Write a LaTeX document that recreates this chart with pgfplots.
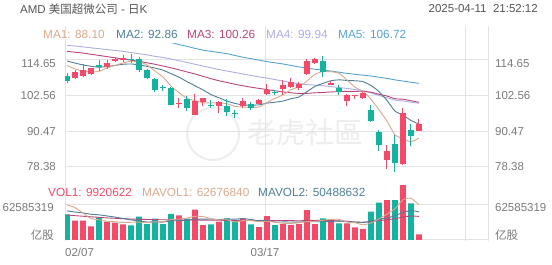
\documentclass[border=0pt]{standalone}
\usepackage{fontspec}
\setmainfont{Liberation Sans}
\newfontfamily\cjk{Noto Sans CJK SC}
\usepackage{pgfplots}
\usepackage{pgfplotstable}
\pgfplotsset{compat=1.18}

\definecolor{upred}{HTML}{F24A68}
\definecolor{dnteal}{HTML}{14B39F}
\definecolor{ma1c}{HTML}{D9A98C}
\definecolor{ma2c}{HTML}{4E7E98}
\definecolor{ma3c}{HTML}{B9457A}
\definecolor{ma4c}{HTML}{ADADE6}
\definecolor{ma5c}{HTML}{56A3D2}
\definecolor{gridc}{HTML}{E3E3E3}
\definecolor{labc}{HTML}{7A7A7A}
\definecolor{titc}{HTML}{555555}
\definecolor{wmc}{HTML}{EDEDED}

\newcommand\lab{\fontsize{11.5}{13}\selectfont}

% candles: i open high low close
\pgfplotstableread{
i o h l c
1 108.68 111.27 108.2 110.70
2 109.35 113.18 109.0 111.27
3 109.8 112.1 109.6 111.83
5 112.4 114.65 111.6 113.5
6 114.4 115.8 113.9 115.0
7 114.5 116.3 114.1 115.4
14 99.9 101.9 98.5 100.2
16 96.1 103.0 95.8 100.8
17 100.3 101.9 98.9 101.7
19 98.9 100.8 96.6 100.3
22 98.9 101.7 98.3 100.6
24 99.7 101.5 99.6 101.1
25 103.0 106.4 102.8 104.5
27 104.7 107.9 102.8 106.2
28 105.6 108.4 105.3 107.1
29 105.3 107.1 104.5 106.4
30 109.8 115.0 109.6 114.3
31 113.5 115.2 113.2 115.0
33 106.4 107.4 106.0 106.8
35 100.6 103.0 98.9 102.8
36 102.5 102.8 101.5 102.8
37 101.7 103.9 101.4 103.4
40 80.5 85.9 77.5 83.7
42 79.4 98.3 79.1 96.6
44 90.6 94.7 90.4 93.0
}\upc
\pgfplotstableread{
i o h l c
0 109.35 110.14 106.99 107.66
4 112.8 114.65 110.9 112.5
8 115.0 116.6 113.5 114.8
9 115.0 115.8 110.7 111.3
10 111.3 111.6 108.1 108.4
11 108.2 108.7 103.9 104.5
12 105.5 106.0 104.2 105.3
13 105.3 105.6 99.2 99.4
15 101.4 102.3 97.2 98.5
18 99.4 101.1 98.3 99.1
20 98.9 101.5 95.5 97.0
21 96.6 97.7 94.9 96.4
23 99.7 100.3 97.7 98.3
26 103.9 104.5 102.8 103.7
32 114.3 116.1 109.0 110.7
34 105.3 106.2 102.8 103.9
38 97.7 99.4 93.6 93.8
39 90.2 91.0 83.7 85.7
41 86.2 89.3 76.6 79.7
43 91.0 92.9 85.3 88.7
}\dnc

\pgfplotstableread{
i ma1 ma2 ma3 ma4 ma5
0 112.8 114.3 117.6 119.6 nan
1 111.6 113.6 117.3 119.4 nan
2 110.9 113.0 117.0 119.1 nan
3 110.6 112.5 116.6 118.8 nan
4 110.79 112.2 116.2 118.5 nan
5 111.96 112.4 115.8 118.2 nan
6 112.82 112.8 115.4 117.9 nan
7 113.65 113.2 115.0 117.6 nan
8 114.24 113.3 114.6 117.2 nan
9 114.0 113.0 114.2 116.8 nan
10 112.98 112.5 113.7 116.4 nan
11 110.88 111.9 113.2 115.9 nan
12 108.86 111.2 112.6 115.5 nan
13 105.78 110.0 112.0 115.0 120.6
14 103.56 108.8 111.3 114.4 119.9
15 101.58 107.3 110.6 113.8 119.3
16 100.84 105.9 109.9 113.2 118.6
17 100.12 104.5 109.1 112.6 118.0
18 100.06 102.9 108.3 112.0 117.6
19 100.08 101.8 107.6 111.4 117.2
20 99.78 100.7 107.0 110.9 116.8
21 98.9 99.9 106.4 110.4 116.2
22 98.68 99.4 105.9 109.9 115.6
23 98.52 99.3 105.4 109.4 115.1
24 98.68 99.4 105.0 108.9 114.6
25 100.18 100.0 104.6 108.5 114.1
26 101.64 100.3 104.2 108.0 113.7
27 102.76 100.7 103.8 107.5 113.3
28 104.52 101.5 103.5 107.0 112.8
29 105.58 102.1 103.3 106.6 112.3
30 107.54 103.9 103.3 106.3 111.9
31 109.8 105.7 103.5 106.1 111.5
32 110.7 106.7 103.6 105.9 111.2
33 110.64 107.6 103.8 105.6 110.9
34 110.14 107.9 103.9 105.3 110.5
35 107.84 107.7 104.0 105.0 110.1
36 105.4 107.6 104.0 104.6 109.8
37 103.94 107.3 104.0 104.2 109.5
38 101.34 106.0 103.7 103.5 109.2
39 97.7 103.9 103.0 102.6 108.8
40 93.88 100.9 102.4 101.8 108.4
41 89.26 97.3 101.5 101.0 107.9
42 87.9 95.9 101.3 100.7 107.5
43 86.88 94.1 100.8 100.3 107.1
44 88.10 92.86 100.26 99.94 106.72
}\ma

\pgfplotstableread{
i v
1 34.5
2 34.5
3 24.5
5 32.8
6 31.0
7 28.0
14 44.1
16 54.2
17 26.8
19 32.8
22 38.7
24 23.2
25 42.9
27 28.6
28 26.8
29 28.6
30 53.6
31 28.6
33 34.0
35 29.8
36 22.6
37 19.7
40 71.5
42 98.3
44 9.92
}\upv
\pgfplotstableread{
i v
0 45.9
4 40.5
8 26.2
9 41.7
10 28.6
11 38.1
12 28.6
13 46.5
15 38.1
18 28.0
20 38.7
21 35.2
23 28.0
26 26.8
32 38.7
34 29.8
38 50.7
39 66.8
41 71.5
43 65.6
}\dnv

\pgfplotstableread{
i mv1 mv2 mv3
0 62.6 52.0 44.7
1 58.0 50.0 43.5
2 48.0 48.5 42.5
3 38.5 46.0 41.5
4 36.0 45.0 40.5
5 33.4 43.0 39.5
6 32.7 41.0 38.8
7 31.4 38.5 38.0
8 31.7 36.0 37.5
9 31.9 34.0 37.0
10 31.1 32.2 36.7
11 32.5 32.6 36.4
12 32.6 32.0 36.2
13 36.7 34.2 36.0
14 37.2 34.6 35.9
15 39.1 35.1 35.8
16 42.3 37.4 35.7
17 41.9 37.3 35.6
18 38.2 37.5 35.4
19 36.0 36.6 35.3
20 36.1 37.6 34.9
21 32.3 37.3 34.9
22 34.7 38.3 35.2
23 34.7 36.5 35.3
24 32.8 34.4 34.5
25 33.6 34.9 35.0
26 31.9 32.1 34.8
27 29.9 32.3 34.8
28 29.7 32.2 34.8
29 30.7 31.8 34.2
30 32.9 33.2 35.4
31 33.2 32.6 34.9
32 35.3 32.6 35.4
33 36.7 33.2 34.8
34 36.9 33.8 34.1
35 32.2 32.5 33.7
36 31.0 32.1 32.1
37 27.2 31.2 31.8
38 30.5 33.6 32.9
39 37.9 37.4 34.6
40 46.3 39.2 36.2
41 56.0 43.5 38.0
42 71.8 49.5 41.0
43 74.7 52.6 42.9
44 62.68 50.49 42.2
}\mavol

\pgfplotsset{chart/.style={
  scale only axis, width=423pt, anchor=south west,
  xmin=-0.25, xmax=52.625,
  axis line style={draw=none}, major tick length=0pt,
  xtick=\empty, ymajorgrids, grid style={gridc, line width=1pt},
  yticklabels={}, yticklabel style={opacity=0}, clip mode=individual},
  candle/.style={only marks, mark=*, mark size=0pt,
  mark options={draw opacity=0, fill opacity=0},
  error bars/.cd, y dir=both, y explicit, error mark=none,
  error bar style={line width=#1}}}

\begin{document}
\begin{tikzpicture}
\useasboundingbox (0,0) rectangle (552pt,265pt);
% watermark
\draw[wmc, line width=2pt] (213pt,131pt) circle (26pt);
\node[text=wmc, font=\cjk\fontsize{29}{30}\selectfont] at (305pt,133pt) {老虎社區};
% vertical grid lines
\foreach \xx in {65,265,465,488} \draw[gridc, line width=1pt] (\xx pt,24pt) -- (\xx pt,239pt);

\begin{axis}[chart, at={(65pt,90pt)}, height=131pt, ymin=75.56, ymax=120.09,
  ytick={78.38,90.47,102.56,114.65}]
\addplot[ma5c, line width=0.9pt, smooth, tension=0.4] table[x=i,y=ma5] \ma;
\addplot[ma4c, line width=0.9pt, smooth, tension=0.4] table[x=i,y=ma4] \ma;
\addplot[ma3c, line width=0.9pt, smooth, tension=0.4] table[x=i,y=ma3] \ma;
\addplot[ma2c, line width=0.9pt, smooth, tension=0.4] table[x=i,y=ma2] \ma;
\addplot[ma1c, line width=0.9pt, smooth, tension=0.4] table[x=i,y=ma1] \ma;
% wicks
\addplot[upred, candle=1pt]
  table[x=i, y expr={(\thisrow{h}+\thisrow{l})/2}, y error expr={(\thisrow{h}-\thisrow{l})/2}] \upc;
\addplot[dnteal, candle=1pt]
  table[x=i, y expr={(\thisrow{h}+\thisrow{l})/2}, y error expr={(\thisrow{h}-\thisrow{l})/2}] \dnc;
% bodies
\addplot[upred, candle=5.6pt]
  table[x=i, y expr={(\thisrow{o}+\thisrow{c})/2}, y error expr={abs(\thisrow{c}-\thisrow{o})/2}] \upc;
\addplot[dnteal, candle=5.6pt]
  table[x=i, y expr={(\thisrow{o}+\thisrow{c})/2}, y error expr={abs(\thisrow{c}-\thisrow{o})/2}] \dnc;
\end{axis}

\begin{axis}[chart, at={(65pt,25pt)}, height=60pt, ymin=0, ymax=107.28,
  ytick={0,62.585319}]
\addplot[ybar, bar width=0.7, bar shift=0pt, fill=upred, draw=none] table[x=i,y=v] \upv;
\addplot[ybar, bar width=0.7, bar shift=0pt, fill=dnteal, draw=none] table[x=i,y=v] \dnv;
\addplot[ma3c, line width=0.9pt, smooth, tension=0.4] table[x=i,y=mv3] \mavol;
\addplot[ma2c, line width=0.9pt, smooth, tension=0.4] table[x=i,y=mv2] \mavol;
\addplot[ma1c, line width=0.9pt, smooth, tension=0.4] table[x=i,y=mv1] \mavol;
\end{axis}

% title row
\node[anchor=west, text=titc, font=\fontsize{11.5}{13}\selectfont, inner sep=0pt] at (20pt,256pt) {AMD {\cjk 美国超微公司} - {\cjk 日}K};
\node[anchor=east, text=titc, font=\fontsize{11.5}{13}\selectfont, inner sep=0pt] at (538pt,256pt) {2025-04-11\ \ 21:52:12};
% MA legend
\begin{scope}[every node/.style={anchor=west, inner sep=0pt, font=\fontsize{11.8}{13}\selectfont}]
\node[text=ma1c] at (43pt,231pt) {MA1: 88.10};
\node[text=ma2c] at (116pt,231pt) {MA2: 92.86};
\node[text=ma3c] at (187pt,231pt) {MA3: 100.26};
\node[text=ma4c] at (266pt,231pt) {MA4: 99.94};
\node[text=ma5c] at (338pt,231pt) {MA5: 106.72};
\node[text=upred] at (48pt,73pt) {VOL1: 9920622};
\node[text=ma1c] at (142pt,73pt) {MAVOL1: 62676840};
\node[text=ma2c] at (258pt,73pt) {MAVOL2: 50488632};
\end{scope}
% axis labels
\begin{scope}[every node/.style={inner sep=0pt, text=labc, font=\lab}]
\node[anchor=east] at (56pt,201pt) {114.65};
\node[anchor=east] at (56pt,169pt) {102.56};
\node[anchor=east] at (56pt,133.5pt) {90.47};
\node[anchor=east] at (56pt,98pt) {78.38};
\node[anchor=west] at (495pt,201pt) {114.65};
\node[anchor=west] at (495pt,169pt) {102.56};
\node[anchor=west] at (495pt,133.5pt) {90.47};
\node[anchor=west] at (495pt,98pt) {78.38};
\node[anchor=east] at (54pt,57.5pt) {62585319};
\node[anchor=east] at (54pt,29.5pt) {\cjk 亿股};
\node[anchor=west] at (495pt,57.5pt) {62585319};
\node[anchor=west] at (495pt,29.5pt) {\cjk 亿股};
\node[anchor=west] at (65pt,13pt) {02/07};
\node at (265pt,13pt) {03/17};
\end{scope}
\end{tikzpicture}
\end{document}
